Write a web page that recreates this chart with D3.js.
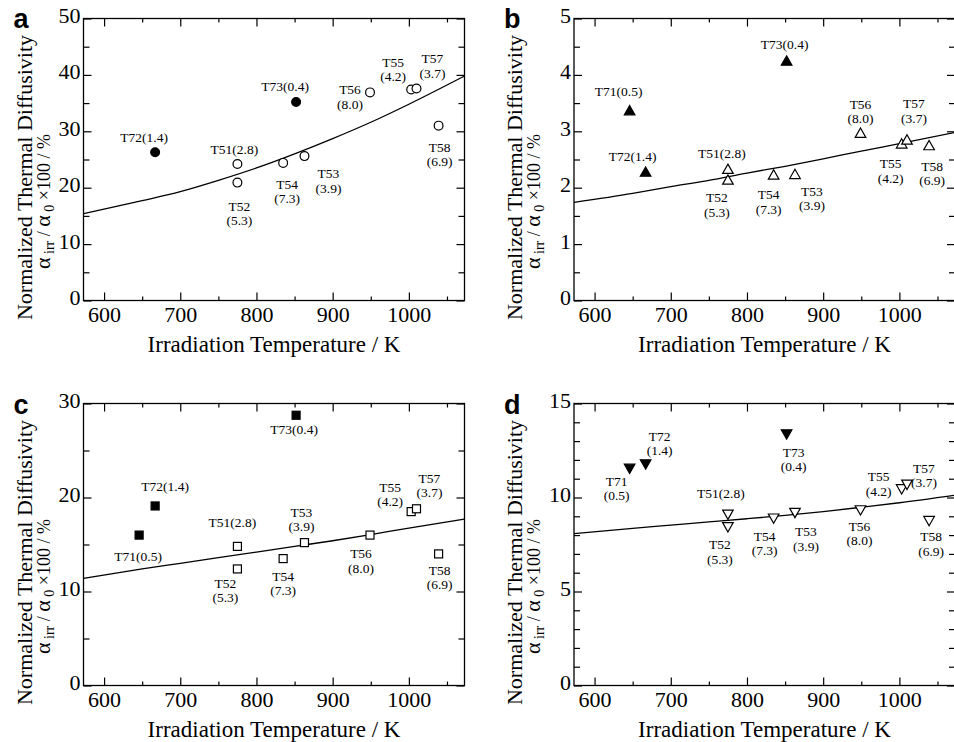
<!DOCTYPE html>
<html>
<head>
<meta charset="utf-8">
<script src="https://cdn.jsdelivr.net/npm/d3@7"></script>
<style>
  body { margin: 0; background: #fff; }
  svg text { font-family: "Liberation Serif", "Times New Roman", serif; fill: #000; }
  .axis path { display: none; }
  .axis line { stroke: #000; stroke-width: 1.2; }
</style>
</head>
<body>
<div id="chart"></div>
<script>

// samples, irradiation temperature (K) and dose (dpa)
var sampleIds = ["T71", "T72", "T73", "T51", "T52", "T54", "T53", "T56", "T55", "T57", "T58"];
var doses = ["0.5", "1.4", "0.4", "2.8", "5.3", "7.3", "3.9", "8.0", "4.2", "3.7", "6.9"];
var temps = [646, 667, 852, 775, 775, 835, 863, 949, 1003, 1010, 1039];
var filledSamples = ["T71", "T72", "T73"];

// normalized thermal diffusivity, one list per panel (null = not measured)
var valuesA = [null, 26.3, 35.2, 24.2, 20.9, 24.4, 25.6, 36.9, 37.4, 37.6, 31.0];
var valuesB = [3.36, 2.27, 4.24, 2.32, 2.13, 2.22, 2.23, 2.96, 2.77, 2.84, 2.74];
var valuesC = [16.0, 19.1, 28.75, 14.8, 12.4, 13.5, 15.2, 16.0, 18.5, 18.8, 14.0];
var valuesD = [11.57, 11.8, 13.4, 9.13, 8.46, 8.92, 9.22, 9.36, 10.48, 10.72, 8.79];

// fitted curves
var fitTemps = [573, 650, 700, 750, 800, 850, 900, 950, 1000, 1073];
var fitA = [15.4, 17.7, 19.3, 21.3, 23.5, 26.0, 28.7, 31.6, 34.8, 39.8];
var fitB = [1.74, 1.90, 2.02, 2.13, 2.26, 2.38, 2.51, 2.65, 2.78, 2.98];
var fitC = [11.4, 12.4, 13.0, 13.6, 14.2, 14.8, 15.4, 16.05, 16.75, 17.7];
var fitD = [8.08, 8.36, 8.53, 8.70, 8.87, 9.05, 9.25, 9.48, 9.72, 10.12];

// ticks
var xTicks = [600, 700, 800, 900, 1000];
var xMinorTicks = [650, 750, 850, 950, 1050];
var yTicksA = [0, 10, 20, 30, 40, 50];
var yMinorA = [5, 15, 25, 35, 45];
var yTicksB = [0, 1, 2, 3, 4, 5];
var yMinorB = [0.5, 1.5, 2.5, 3.5, 4.5];
var yTicksC = [0, 10, 20, 30];
var yMinorC = [5, 15, 25];
var yTicksD = [0, 5, 10, 15];
var yMinorD = [1, 2, 3, 4, 6, 7, 8, 9, 11, 12, 13, 14];

// label placement for each point: [dx, dy, two lines?]
var labelsA = [null, [-11, -10, 0], [-11, -11, 0], [-3, -10, 0], [2, 28, 1], [4, 26, 1],
               [24, 22, 1], [-20, 2, 1], [-18, -23, 1], [16, -25, 1], [1, 26, 1]];
var labelsB = [[-11, -15, 0], [-13, -11, 0], [-2, -12, 0], [-6, -12, 0], [-11, 22, 1], [-5, 24, 1],
               [17, 21, 1], [0, -25, 1], [-11, 24, 1], [7, -32, 1], [3, 25, 1]];
var labelsC = [[-1, 26, 0], [10, -15, 0], [-2, 19, 0], [-5, -19, 0], [-12, 19, 1], [0, 22, 1],
               [-3, -26, 1], [-9, 23, 1], [-21, -20, 1], [13, -26, 1], [1, 21, 1]];
var labelsD = [[-13, 18, 1], [14, -23, 1], [7, 23, 1], [-7, -16, 0], [-8, 23, 1], [-9, 23, 1],
               [11, 24, 1], [-1, 21, 1], [-23, -7, 1], [17, -11, 1], [2, 21, 1]];

var svgWidth = 954;
var svgHeight = 742;
var plotWidth = 381;
var plotHeight = 282;
var lineGap = 14.5;

var panels = [
    { letter: "a", left: 83.5, top: 18.5, values: valuesA, fit: fitA, ticks: yTicksA, minor: yMinorA, marker: "circle", labels: labelsA },
    { letter: "b", left: 574, top: 18.5, values: valuesB, fit: fitB, ticks: yTicksB, minor: yMinorB, marker: "up", labels: labelsB },
    { letter: "c", left: 83.5, top: 403.5, values: valuesC, fit: fitC, ticks: yTicksC, minor: yMinorC, marker: "square", labels: labelsC },
    { letter: "d", left: 574, top: 403.5, values: valuesD, fit: fitD, ticks: yTicksD, minor: yMinorD, marker: "down", labels: labelsD }
];

var svg = d3.select("#chart").append("svg")
    .attr("width", svgWidth)
    .attr("height", svgHeight)
    .style("display", "block");

svg.append("rect").attr("width", svgWidth).attr("height", svgHeight).attr("fill", "#fff");

var xScale = d3.scaleLinear().domain([573, 1073]).range([0, plotWidth]);

function drawMarker(g, kind, filled) {
    var fill = filled ? "#000" : "#fff";
    var m;
    if (kind === "circle") {
        m = g.append("circle").attr("r", 4.4);
    } else if (kind === "square") {
        m = g.append("rect").attr("x", -4).attr("y", -4).attr("width", 8).attr("height", 8);
    } else if (kind === "up") {
        m = g.append("path").attr("d", "M0,-5.5L5.3,3.8L-5.3,3.8Z");
    } else {
        m = g.append("path").attr("d", "M0,5.5L5.3,-3.8L-5.3,-3.8Z");
    }
    m.attr("fill", fill).attr("stroke", "#000").attr("stroke-width", 1.2);
}

panels.forEach(function (p) {

    var yMax = d3.max(p.ticks);
    var yScale = d3.scaleLinear().domain([0, yMax]).range([plotHeight, 0]);

    var chartGroup = svg.append("g")
        .attr("transform", `translate(${p.left}, ${p.top})`);

    // frame
    chartGroup.append("rect")
        .attr("width", plotWidth)
        .attr("height", plotHeight)
        .attr("fill", "none")
        .attr("stroke", "#000")
        .attr("stroke-width", 1.3);

    // bottom axis with labels
    var xAxis = chartGroup.append("g")
        .attr("class", "axis")
        .attr("transform", `translate(0, ${plotHeight})`)
        .call(d3.axisBottom(xScale).tickValues(xTicks).tickSize(-8).tickPadding(5.5).tickFormat(d3.format("d")));
    xAxis.selectAll("text").attr("font-size", 22).attr("dy", "0.71em");
    chartGroup.append("g")
        .attr("class", "axis")
        .attr("transform", `translate(0, ${plotHeight})`)
        .call(d3.axisBottom(xScale).tickValues(xMinorTicks).tickSize(-4).tickFormat(""));

    // top axis, ticks only
    chartGroup.append("g").attr("class", "axis")
        .call(d3.axisTop(xScale).tickValues(xTicks).tickSize(-8).tickFormat(""));
    chartGroup.append("g").attr("class", "axis")
        .call(d3.axisTop(xScale).tickValues(xMinorTicks).tickSize(-4).tickFormat(""));

    // left axis with labels
    var yAxis = chartGroup.append("g")
        .attr("class", "axis")
        .call(d3.axisLeft(yScale).tickValues(p.ticks).tickSize(-8).tickPadding(3).tickFormat(d3.format("d")));
    yAxis.selectAll("text").attr("font-size", 22).attr("dy", "0.18em");
    chartGroup.append("g").attr("class", "axis")
        .call(d3.axisLeft(yScale).tickValues(p.minor).tickSize(-6).tickFormat(""));

    // right axis, ticks only
    chartGroup.append("g").attr("class", "axis")
        .attr("transform", `translate(${plotWidth}, 0)`)
        .call(d3.axisRight(yScale).tickValues(p.ticks).tickSize(-8).tickFormat(""));
    chartGroup.append("g").attr("class", "axis")
        .attr("transform", `translate(${plotWidth}, 0)`)
        .call(d3.axisRight(yScale).tickValues(p.minor).tickSize(-6).tickFormat(""));

    // fitted curve
    var line = d3.line()
        .x(function (d, i) { return xScale(fitTemps[i]); })
        .y(function (d) { return yScale(d); })
        .curve(d3.curveMonotoneX);
    chartGroup.append("path")
        .datum(p.fit)
        .attr("d", line)
        .attr("fill", "none")
        .attr("stroke", "#000")
        .attr("stroke-width", 1.3);

    // points
    sampleIds.forEach(function (id, i) {
        var v = p.values[i];
        if (v === null) return;
        var px = xScale(temps[i]);
        var py = yScale(v);
        var mg = chartGroup.append("g").attr("transform", `translate(${px}, ${py})`);
        drawMarker(mg, p.marker, filledSamples.indexOf(id) >= 0);

        var lab = p.labels[i];
        var t = chartGroup.append("text")
            .attr("text-anchor", "middle")
            .attr("font-size", 13.5)
            .attr("x", px + lab[0])
            .attr("y", py + lab[1]);
        if (lab[2]) {
            t.append("tspan").attr("x", px + lab[0]).text(id);
            t.append("tspan").attr("x", px + lab[0]).attr("dy", lineGap).text(`(${doses[i]})`);
        } else {
            t.text(`${id}(${doses[i]})`);
        }
    });

    // x axis title
    chartGroup.append("text")
        .attr("x", plotWidth / 2)
        .attr("y", plotHeight + 51)
        .attr("text-anchor", "middle")
        .attr("font-size", 23)
        .text("Irradiation Temperature / K");

    // y axis titles
    chartGroup.append("text")
        .attr("transform", `translate(-52, ${plotHeight / 2 + 18}) rotate(-90)`)
        .attr("text-anchor", "middle")
        .attr("font-size", 22)
        .text("Normalized Thermal Diffusivity");

    var t2 = chartGroup.append("text")
        .attr("transform", `translate(-34, ${plotHeight / 2 + 42}) rotate(-90)`)
        .attr("text-anchor", "middle")
        .attr("font-size", 18);
    t2.append("tspan").attr("font-size", 22).text("α");
    t2.append("tspan").attr("font-size", 14).attr("dy", 4).text(" irr");
    t2.append("tspan").attr("dy", -4).text(" / ");
    t2.append("tspan").attr("font-size", 22).text("α");
    t2.append("tspan").attr("font-size", 14).attr("dy", 4).text(" 0");
    t2.append("tspan").attr("dy", -4).text("  \u00d7100 / %");

    // panel letter
    svg.append("text")
        .attr("x", p.left - 70)
        .attr("y", p.top + (p.top > 100 ? 10 : 9))
        .attr("font-size", 27)
        .attr("font-weight", "bold")
        .style("font-family", "Liberation Sans, Arial, sans-serif")
        .text(p.letter);
});

</script>
</body>
</html>
